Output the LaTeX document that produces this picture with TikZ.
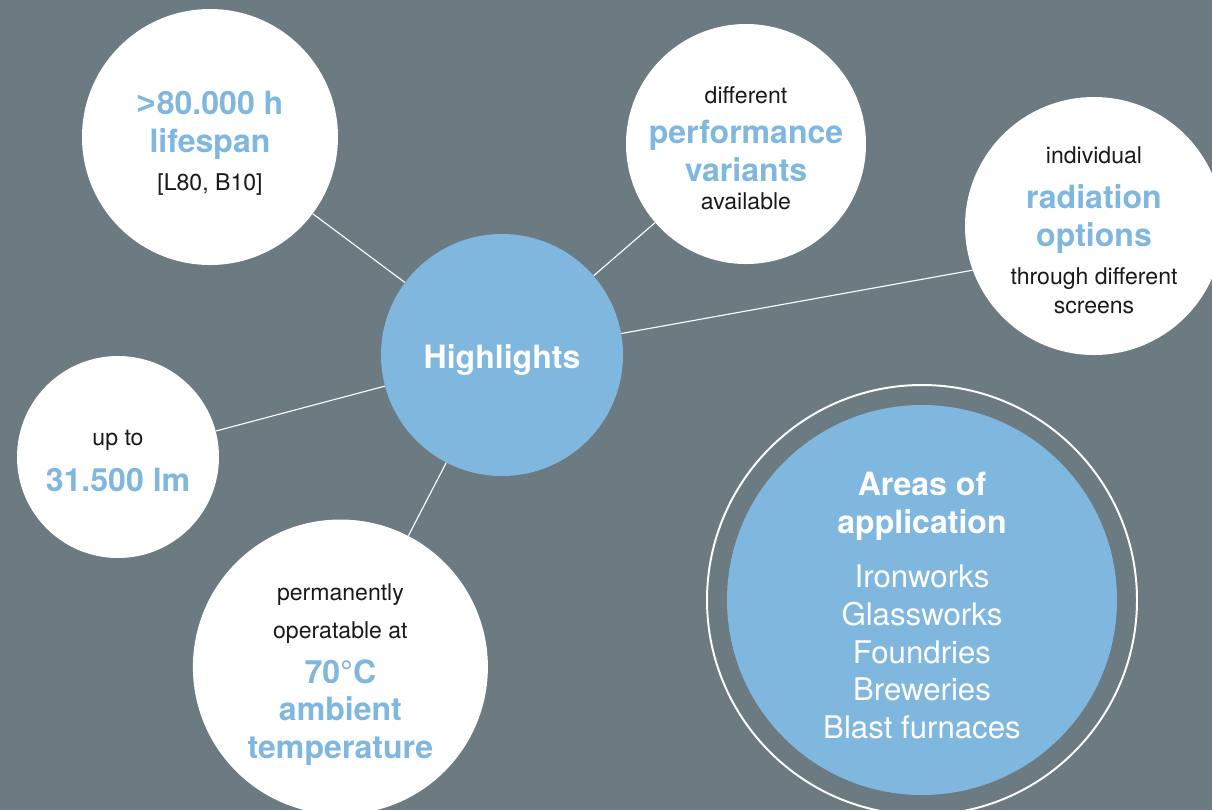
\documentclass[tikz,border=0pt]{standalone}
\usepackage{fontspec}
\setmainfont{TeX Gyre Heros}
\newfontfamily\glyphfont{Liberation Sans}
\usepackage{tikz}
\usetikzlibrary{positioning,calc}
\definecolor{HLSlate}{RGB}{108,122,130}
\definecolor{HLBlue}{RGB}{128,183,223}
\definecolor{HLInk}{RGB}{26,26,26}

\newcommand{\keytext}[1]{{\fontsize{22.8}{27}\selectfont\bfseries\color{HLBlue}#1}}
\newcommand{\listtext}[1]{{\fontsize{22.2}{27}\selectfont\mdseries\color{white}#1}}

\begin{document}
\begin{tikzpicture}[
    font=\fontsize{16.4}{27}\selectfont,
    feature/.style={
        circle,
        fill=white,
        inner sep=0pt
    },
    hub/.style={
        circle,
        fill=HLBlue,
        inner sep=0pt
    },
    featuretext/.style={
        inner sep=0pt,
        align=center,
        text=HLInk
    },
    hubtext/.style={
        inner sep=0pt,
        align=center,
        text=white,
        font=\fontsize{22.8}{27}\selectfont\bfseries
    },
    ring/.style={
        circle,
        draw=white,
        line width=1.4pt,
        inner sep=0pt
    },
    spoke/.style={
        draw=white,
        line width=0.8pt
    }
]

\fill[HLSlate] (0,0) rectangle (30.3,-20.25);
\useasboundingbox (0,0) rectangle (30.3,-20.25);
\clip (0,0) rectangle (30.3,-20.25);

% circles
\node[hub, minimum size=6.05cm]      (hl)        at (12.55,-8.875) {};
\node[feature, minimum size=6.4cm]   (lifespan)  at (5.25,-3.425) {};
\node[feature, minimum size=6.0cm]   (perf)      at (18.65,-3.6) {};
\node[feature, minimum size=6.45cm]  (radiation) at (27.35,-5.65) {};
\node[feature, minimum size=5.05cm]  (lumen)     at (2.95,-11.425) {};
\node[feature, minimum size=7.375cm] (temp)      at (8.51,-16.675) {};
\node[hub, minimum size=9.75cm]      (areas)     at (23.05,-15.0) {};
\node[ring, minimum size=10.75cm]    (areasring) at (areas) {};

% texts
\node[hubtext] (hltext) at ([yshift=-0.125cm]hl.center) {Highlights};

\node[featuretext] (lifespantext) at ([yshift=-0.16cm]lifespan.center)
{\keytext{{\glyphfont>}\kern1pt80.000 h}\\ \keytext{lifespan}\\ {[L80, B10]}};

\node[featuretext] (perftext) at ([yshift=-0.1cm]perf.center)
{different\\[1.4pt] \keytext{performance}\\ \keytext{variants}\\[-7pt] available};

\node[featuretext] (radiationtext) at ([yshift=-0.1cm]radiation.center)
{individual\\[5pt] \keytext{radiation}\\ \keytext{options}\\ through different\\[-6.4pt] screens};

\node[featuretext] (lumentext) at ([yshift=-0.11cm]lumen.center)
{up to\\[5.7pt] \keytext{31.500 lm}};

\node[featuretext] (temptext) at ([yshift=-0.19cm]temp.center)
{permanently\\ operatable at\\[5pt] \keytext{70°C}\\ \keytext{ambient}\\ \keytext{temperature}};

\node[hubtext] (areastext) at ([yshift=-0.14cm]areas.center)
{Areas of\\ application\\[11.4pt] \listtext{Ironworks}\\ \listtext{Glassworks}\\ \listtext{Foundries}\\ \listtext{Breweries}\\ \listtext{Blast furnaces}};

% spokes
\draw[spoke] (hl) -- (lifespan);
\draw[spoke] (hl) -- (perf);
\draw[spoke] (hl) -- (radiation.200);
\draw[spoke] (hl) -- (lumen);
\draw[spoke] (hl) -- (temp);

\end{tikzpicture}
\end{document}
